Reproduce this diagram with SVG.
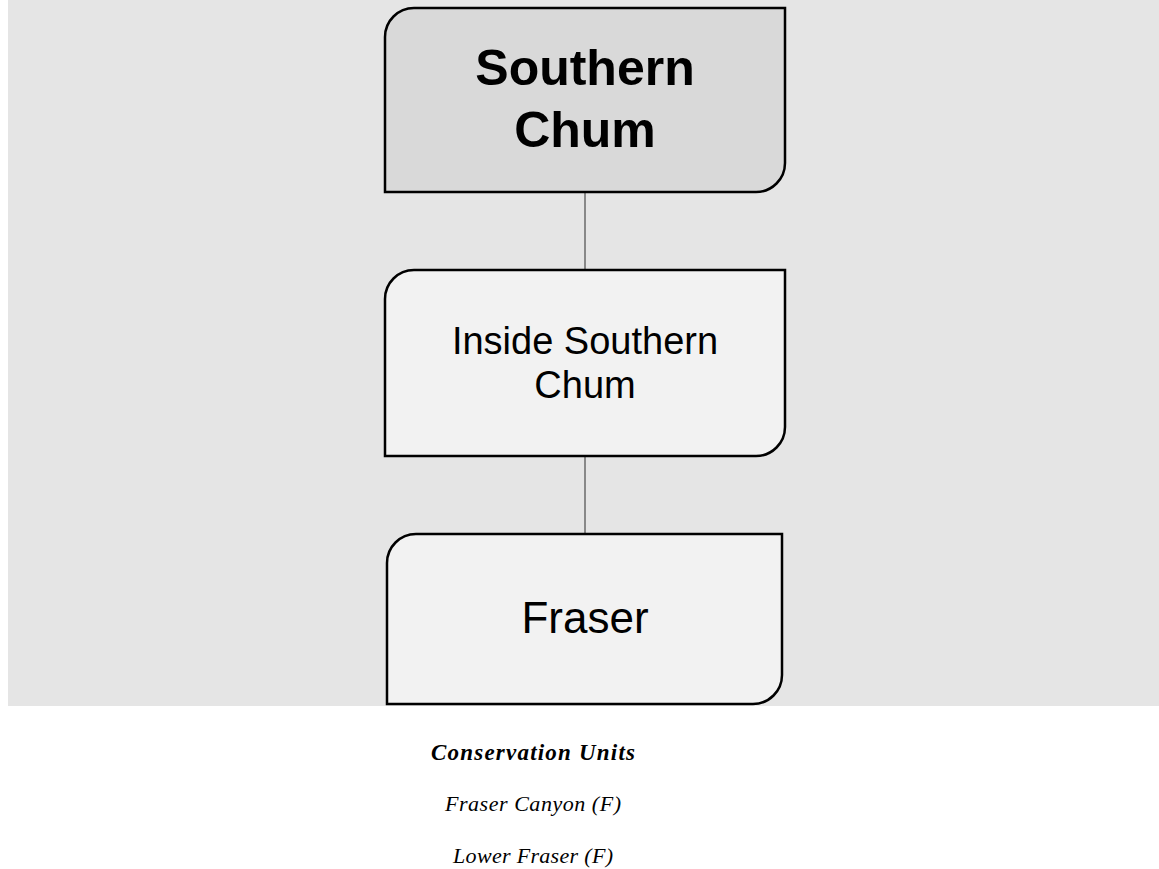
<svg xmlns="http://www.w3.org/2000/svg" width="1159" height="869" viewBox="0 0 1159 869">
  <style>
    .node { stroke: #000; stroke-width: 2.5; }
    .root { fill: #d9d9d9; }
    .child { fill: #f2f2f2; }
    .conn { stroke: #888; stroke-width: 2; fill: none; }
    .lbl { font-family: "Liberation Sans", Arial, sans-serif; text-anchor: middle; fill: #000; }
    .cap { font-family: "Liberation Serif", "Times New Roman", serif; font-style: italic; text-anchor: middle; fill: #000; }
  </style>
  <rect x="0" y="0" width="1159" height="869" fill="#ffffff"/>
  <rect x="8" y="0" width="1151" height="706" fill="#e5e5e5"/>
  <g id="connectors">
    <line class="conn" x1="585" y1="192" x2="585" y2="270"/>
    <line class="conn" x1="585" y1="456" x2="585" y2="534"/>
  </g>
  <g id="node-southern-chum">
    <path class="node root" d="M385,192 L385,37 A29,29 0 0 1 414,8 L785,8 L785,163 A29,29 0 0 1 756,192 Z"/>
    <text class="lbl" x="585" y="85" font-size="50" font-weight="bold">Southern</text>
    <text class="lbl" x="585" y="147" font-size="50" font-weight="bold">Chum</text>
  </g>
  <g id="node-inside-southern-chum">
    <path class="node child" d="M385,456 L385,299 A29,29 0 0 1 414,270 L785,270 L785,427 A29,29 0 0 1 756,456 Z"/>
    <text class="lbl" x="585" y="354" font-size="38">Inside Southern</text>
    <text class="lbl" x="585" y="398" font-size="38">Chum</text>
  </g>
  <g id="node-fraser">
    <path class="node child" d="M387,704 L387,563 A29,29 0 0 1 416,534 L782,534 L782,675 A29,29 0 0 1 753,704 Z"/>
    <text class="lbl" x="585" y="633" font-size="44">Fraser</text>
  </g>
  <g id="legend">
    <text class="cap" x="533" y="760" font-size="23" font-weight="bold" textLength="204">Conservation Units</text>
    <text class="cap" x="533" y="811" font-size="22" textLength="176">Fraser Canyon (F)</text>
    <text class="cap" x="533" y="863" font-size="22" textLength="160">Lower Fraser (F)</text>
  </g>
</svg>
